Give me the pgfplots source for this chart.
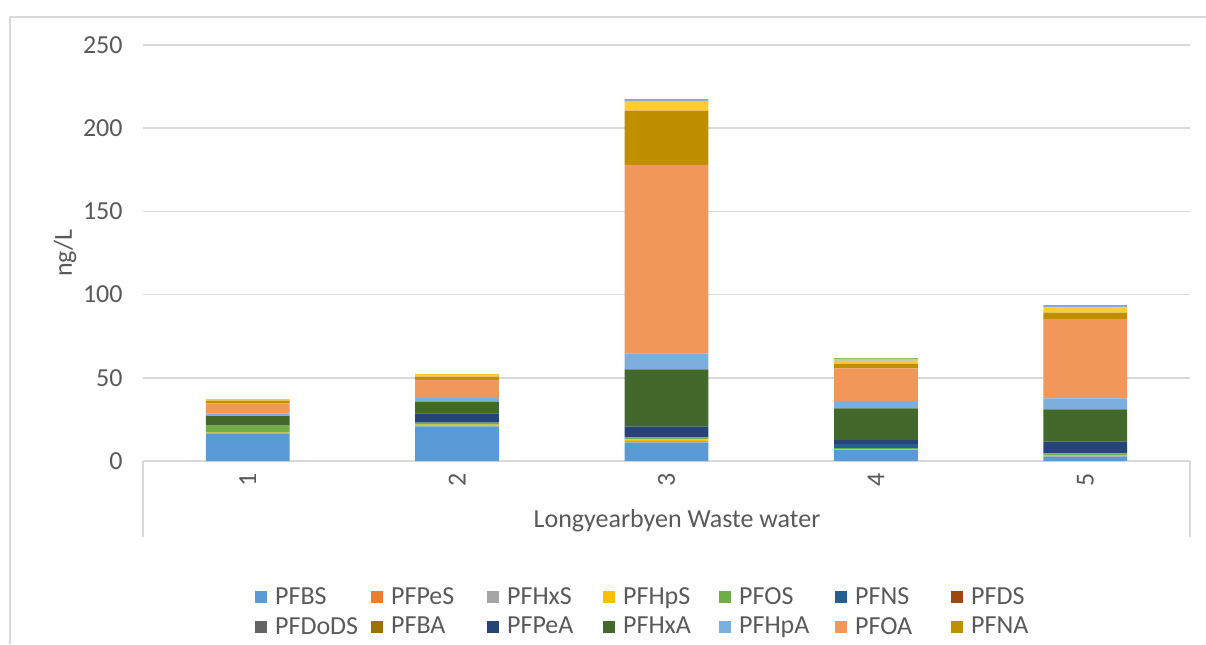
\documentclass[border=0pt]{standalone}
\usepackage{pgfplots}
\pgfplotsset{compat=1.18}
\usepackage{pgfplotstable}
\usepackage{fontspec}
\setmainfont{Carlito}

\definecolor{cPFBS}{HTML}{5B9BD5}
\definecolor{cPFPeS}{HTML}{ED7D31}
\definecolor{cPFHxS}{HTML}{A5A5A5}
\definecolor{cPFHpS}{HTML}{FFC000}
\definecolor{cPFOS}{HTML}{70AD47}
\definecolor{cPFNS}{HTML}{255E91}
\definecolor{cPFDS}{HTML}{9E480E}
\definecolor{cPFDoDS}{HTML}{636363}
\definecolor{cPFBA}{HTML}{997300}
\definecolor{cPFPeA}{HTML}{264478}
\definecolor{cPFHxA}{HTML}{43682B}
\definecolor{cPFHpA}{HTML}{7CAFDD}
\definecolor{cPFOA}{HTML}{F1975A}
\definecolor{cPFNA}{HTML}{BF8F00}
\definecolor{cXY}{HTML}{FFCD33}
\definecolor{cXB}{HTML}{7FA9D6}
\definecolor{cXG}{HTML}{8CC168}
\definecolor{gridc}{HTML}{D9D9D9}
\definecolor{txt}{HTML}{595959}

% x = sample number, values in ng/L
\pgfplotstableread{
x PFBS PFPeS PFHxS PFHpS PFOS PFNS PFDS PFDoDS PFBA PFPeA PFHxA PFHpA PFOA PFNA XY XB XG
1 16.6 0 0.0 0.5 4.1 0.0 0 0 0 0.0 5.8 1.6 6.1 1.6 1.0 0.0 0.0
2 20.6 0 0.3 1.0 1.1 0.0 0 0 0 5.6 7.0 2.4 10.7 2.0 1.6 0.0 0.0
3 11.0 0 1.0 1.0 1.2 0.0 0 0 0 6.4 34.5 9.6 113.2 32.6 6.0 1.0 0.0
4 6.6 0 0.0 0.3 0.9 2.4 0 0 0 2.4 19.1 4.4 19.6 2.6 2.0 0.8 0.6
5 2.6 0 0.4 0.2 1.4 0.0 0 0 0 7.0 19.5 6.6 47.6 3.8 3.2 1.4 0.0
}\data

\begin{document}
\begin{tikzpicture}
\path[use as bounding box] (0,0) rectangle (603pt,322pt);
\draw[gridc, line width=1pt] (5pt,0) -- (5pt,313.5pt) -- (603pt,313.5pt);
\draw[gridc, line width=0.8pt] (71.5pt,91.5pt) -- (71.5pt,53.5pt);
\draw[gridc, line width=0.8pt] (595pt,91.5pt) -- (595pt,53.5pt);
\begin{axis}[
  at={(71.5pt,91.5pt)}, anchor=south west,
  scale only axis, width=523.5pt, height=208pt,
  ybar stacked, bar width=0.4,
  xmin=0.5, xmax=5.5, ymin=0, ymax=250,
  xtick={1,2,3,4,5}, ytick={0,50,...,250},
  /pgf/number format/assume math mode=true,
  major tick length=0pt,
  axis lines*=left,
  y axis line style={draw=none},
  x axis line style={gridc, line width=1pt},
  ymajorgrids, grid style={gridc, line width=0.8pt},
  font=\fontsize{13}{15}\selectfont,
  tick label style={text=txt},
  yticklabel style={inner sep=0pt, xshift=-10pt},
  xticklabel style={rotate=90, anchor=east, inner sep=0pt},
  xticklabel shift=6pt,
  ylabel={ng/L}, ylabel style={text=txt, at={(axis description cs:-0.0745,0.5)}, anchor=center},
  xlabel={Longyearbyen Waste water}, xlabel style={text=txt, at={(axis description cs:0.51,-0.144)}, anchor=center},
  every axis plot/.append style={draw=none},
  legend columns=7,
  legend style={draw=none, fill=none, at={(0.101,-0.293)}, anchor=north west,
    text=txt, row sep=5pt,
    nodes={inner sep=0pt},
    /tikz/every odd column/.append style={column sep=4pt},
    /tikz/every even column/.append style={column sep=0pt}},
  legend image code/.code={\fill[#1] (0pt,-3pt) rectangle (6pt,3pt);},
]
\addplot[fill=cPFBS] table[y=PFBS]{\data};
\addplot[fill=cPFPeS] table[y=PFPeS]{\data};
\addplot[fill=cPFHxS] table[y=PFHxS]{\data};
\addplot[fill=cPFHpS] table[y=PFHpS]{\data};
\addplot[fill=cPFOS] table[y=PFOS]{\data};
\addplot[fill=cPFNS] table[y=PFNS]{\data};
\addplot[fill=cPFDS] table[y=PFDS]{\data};
\addplot[fill=cPFDoDS] table[y=PFDoDS]{\data};
\addplot[fill=cPFBA] table[y=PFBA]{\data};
\addplot[fill=cPFPeA] table[y=PFPeA]{\data};
\addplot[fill=cPFHxA] table[y=PFHxA]{\data};
\addplot[fill=cPFHpA] table[y=PFHpA]{\data};
\addplot[fill=cPFOA] table[y=PFOA]{\data};
\addplot[fill=cPFNA] table[y=PFNA]{\data};
\addplot[fill=cXY, forget plot] table[y=XY]{\data};
\addplot[fill=cXB, forget plot] table[y=XB]{\data};
\addplot[fill=cXG, forget plot] table[y=XG]{\data};
\legend{\makebox[48pt][l]{PFBS},\makebox[48pt][l]{PFPeS},\makebox[48pt][l]{PFHxS},\makebox[48pt][l]{PFHpS},\makebox[48pt][l]{PFOS},\makebox[48pt][l]{PFNS},\makebox[48pt][l]{PFDS},
\makebox[48pt][l]{PFDoDS},\makebox[48pt][l]{PFBA},\makebox[48pt][l]{PFPeA},\makebox[48pt][l]{PFHxA},\makebox[48pt][l]{PFHpA},\makebox[48pt][l]{PFOA},\makebox[48pt][l]{PFNA}}
\end{axis}
\end{tikzpicture}
\end{document}
